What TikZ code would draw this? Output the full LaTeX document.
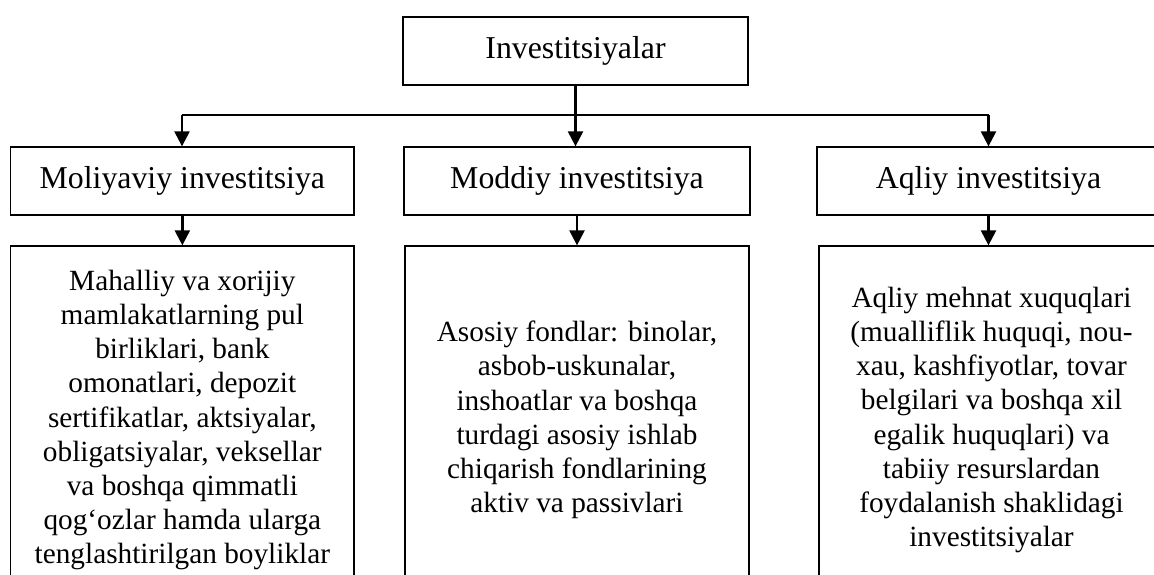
\documentclass[tikz,border=0pt]{standalone}
\usepackage{fontspec}
\setmainfont{Liberation Serif}
\usetikzlibrary{arrows.meta}
\tikzset{
  box/.style={draw=black, line width=1.3pt, inner sep=0pt, align=center},
  headbox/.style={box, font=\fontsize{31.8}{38}\selectfont, minimum height=68pt},
  bodybox/.style={box, font=\fontsize{29.3}{34.2}\selectfont, minimum height=348pt},
  arr/.style={line width=2.3pt, -{Triangle[length=15pt,width=15pt]}},
  link/.style={line width=1.3pt},
}
\begin{document}
\begin{tikzpicture}[x=1pt,y=-1pt]
\useasboundingbox (0,0) rectangle (1154,574);
\clip (0,0) rectangle (1154,574);
% top
\node[headbox, minimum width=345pt] (top) at (575.5,51) {Investitsiyalar};
% second row
\node[headbox, minimum width=343.3pt] (L) at (182.35,181) {Moliyaviy investitsiya};
\node[headbox, minimum width=346pt] (M) at (577,181) {Moddiy investitsiya};
\node[headbox, minimum width=343pt] (R) at (988.5,181) {Aqliy investitsiya};
% bottom row
\node[bodybox, minimum width=343.3pt] (LL) at (182.35,420) {Mahalliy va xorijiy\\ mamlakatlarning pul\\ birliklari, bank\\ omonatlari, depozit\\ sertifikatlar, aktsiyalar,\\ obligatsiyalar, veksellar\\ va boshqa qimmatli\\ qog‘ozlar hamda ularga\\ tenglashtirilgan boyliklar};
\node[bodybox, minimum width=344pt] (ML) at (577,420) {Asosiy fondlar: binolar,\\ asbob-uskunalar,\\ inshoatlar va boshqa\\ turdagi asosiy ishlab\\ chiqarish fondlarining\\ aktiv va passivlari};
\node[bodybox, minimum width=345pt] (RL) at (991.5,420) {Aqliy mehnat xuquqlari\\ (mualliflik huquqi, nou-\\ xau, kashfiyotlar, tovar\\ belgilari va boshqa xil\\ egalik huquqlari) va\\ tabiiy resurslardan\\ foydalanish shaklidagi\\ investitsiyalar};
% connectors
\coordinate (jL) at (182,115);
\coordinate (jR) at (988.5,115);
\draw[link] (jL) -- (jR);
\draw[arr] (top.south) -- (top.south |- M.north);
\draw[arr] (jL) -- (jL |- L.north);
\draw[arr] (jR) -- (jR |- R.north);
\draw[arr] (L.south) -- (L.south |- LL.north);
\draw[arr] (M.south) -- (M.south |- ML.north);
\draw[arr] (R.south) -- (R.south |- RL.north);
\end{tikzpicture}
\end{document}
